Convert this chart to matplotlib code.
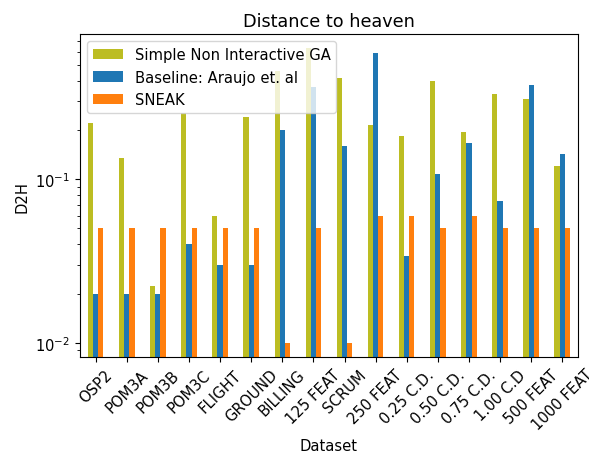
import numpy as np
import matplotlib
matplotlib.use("Agg")
import matplotlib.pyplot as plt

datasets = ["OSP2", "POM3A", "POM3B", "POM3C", "FLIGHT", "GROUND", "BILLING",
            "125 FEAT", "SCRUM", "250 FEAT", "0.25 C.D.", "0.50 C.D.", "0.75 C.D.",
            "1.00 C.D", "500 FEAT", "1000 FEAT"]
simple_ga = [0.222, 0.134, 0.0223, 0.255, 0.06, 0.241, 0.457,
             0.635, 0.417, 0.213, 0.184, 0.398, 0.195, 0.330, 0.310, 0.121]
baseline = [0.02, 0.02, 0.02, 0.04, 0.03, 0.03, 0.201,
            0.367, 0.159, 0.593, 0.0338, 0.107, 0.166, 0.0731, 0.374, 0.143]
sneak = [0.05, 0.05, 0.05, 0.05, 0.05, 0.05, 0.01,
         0.05, 0.01, 0.06, 0.06, 0.05, 0.06, 0.05, 0.05, 0.05]

series = [
    ("Simple Non Interactive GA", simple_ga, "#bcbd22"),
    ("Baseline: Araujo et. al", baseline, "#1f77b4"),
    ("SNEAK", sneak, "#ff7f0e"),
]

plt.rcParams["font.size"] = 10.6
fig = plt.figure(figsize=(5.89, 4.56), dpi=100)
ax = fig.add_axes([0.136, 0.215, 0.845, 0.708])

x = np.arange(len(datasets))
w = 0.5 / len(series)
for i, (name, vals, color) in enumerate(series):
    ax.bar(x + (i - 1) * w, vals, width=w, color=color, label=name)

ax.set_yscale("log")
ax.set_ylim(0.0082, 0.77)
ax.set_xlim(-0.5, len(datasets) - 0.5)
ax.set_xticks(x)
ax.set_xticklabels(datasets, rotation=45)
ax.set_xlabel("Dataset")
ax.set_ylabel("D2H")
ax.set_title("Distance to heaven")
ax.legend(loc="upper left")

fig.savefig("out.png", dpi=100)
